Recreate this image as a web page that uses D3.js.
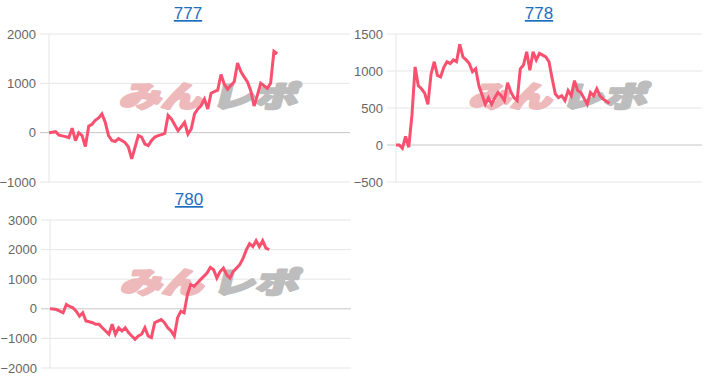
<!DOCTYPE html>
<html>
<head>
<meta charset="utf-8">
<script src="https://cdn.jsdelivr.net/npm/d3@7"></script>
<style>
  body { margin: 0; background: #fff; }
  svg { display: block; font-family: "Liberation Sans", Arial, sans-serif; }
</style>
</head>
<body>
<script>
// machine numbers (chart titles)
const titles = ['777', '778', '780'];

// cumulative difference per sample
const values777 = [0, 10, 20, -50, -65, -80, -100, 90, -160, 0,
  -60, -280, 130, 170, 250, 300, 380, 210, -60, -160,
  -180, -120, -160, -200, -290, -530, -300, -60, -90, -230,
  -260, -160, -90, -60, -40, -15, 350, 280, 160, 40,
  120, 210, -30, 75, 380, 480, 550, 680, 480, 800,
  830, 860, 1180, 980, 880, 960, 1030, 1410, 1240, 1130,
  1030, 850, 540, 760, 1000, 950, 900, 1000, 1650, 1600];

const values778 = [0, 0, -45, 115, -30, 400, 1055, 800, 760, 700,
  550, 960, 1125, 940, 920, 1050, 1125, 1100, 1150, 1125,
  1360, 1190, 1150, 1100, 990, 1030, 800, 680, 550, 640,
  550, 640, 710, 665, 600, 840, 720, 640, 600, 1030,
  1080, 1260, 1010, 1260, 1150, 1240, 1215, 1190, 1125, 895,
  690, 640, 665, 600, 735, 665, 870, 735, 710, 630,
  550, 710, 665, 760, 665, 620, 590, 565];

const values780 = [0, -10, -25, -80, -135, 145, 80, 35, -80, -250,
  -135, -415, -440, -470, -525, -525, -640, -750, -860, -525,
  -860, -640, -750, -640, -805, -920, -1030, -920, -860, -640,
  -920, -975, -470, -415, -360, -470, -640, -750, -920, -300,
  -80, -135, 480, 815, 760, 870, 985, 1095, 1210, 1400,
  1320, 1040, 1260, 1375, 1150, 1040, 1260, 1375, 1490, 1700,
  1990, 2200, 2100, 2300, 2100, 2300, 2050, 2000];

// y tick labels
const ticks777 = [-1000, 0, 1000, 2000];
const ticks778 = [-500, 0, 500, 1000, 1500];
const ticks780 = [-2000, -1000, 0, 1000, 2000, 3000];

const width = 709;
const height = 380;
const lineColor = '#f9506f';

const svg = d3.select('body').append('svg')
  .attr('width', width)
  .attr('height', height);

const charts = [
  { title: titles[0], values: values777, ticks: ticks777, xMax: 91,
    left: 49, right: 350, top: 34, bottom: 182, titleX: 188, titleY: 19 },
  { title: titles[1], values: values778, ticks: ticks778, xMax: 96,
    left: 396, right: 702, top: 34, bottom: 182, titleX: 539, titleY: 19 },
  { title: titles[2], values: values780, ticks: ticks780, xMax: 92,
    left: 50, right: 351, top: 220, bottom: 368, titleX: 189, titleY: 205 },
];

charts.forEach(drawChart);

function drawChart(c) {
  const x = d3.scaleLinear()
    .domain([0, c.xMax])
    .range([c.left, c.right]);
  const y = d3.scaleLinear()
    .domain(d3.extent(c.ticks))
    .range([c.bottom, c.top]);

  const g = svg.append('g');

  // title (rendered as a link)
  g.append('text')
    .attr('x', c.titleX)
    .attr('y', c.titleY)
    .attr('text-anchor', 'middle')
    .attr('font-size', 17)
    .attr('fill', '#1d6fbe')
    .style('text-decoration', 'underline')
    .text(c.title);

  // horizontal grid lines
  g.selectAll('line.grid')
    .data(c.ticks)
    .join('line')
    .attr('class', 'grid')
    .attr('x1', c.left - 9)
    .attr('x2', c.right)
    .attr('y1', d => y(d))
    .attr('y2', d => y(d))
    .attr('stroke', d => d === 0 ? '#c6c6c6' : '#e6e6e6')
    .attr('stroke-width', 1);

  // y axis line
  g.append('line')
    .attr('x1', c.left)
    .attr('x2', c.left)
    .attr('y1', c.top)
    .attr('y2', c.bottom + 1)
    .attr('stroke', '#e6e6e6');

  // y labels
  const axis = g.append('g')
    .attr('transform', 'translate(' + c.left + ',0)')
    .call(d3.axisLeft(y).tickValues(c.ticks).tickSize(0).tickPadding(13).tickFormat(d3.format('d')));
  axis.select('.domain').remove();
  axis.selectAll('text')
    .attr('font-size', 13)
    .attr('font-family', '"Liberation Sans", Arial, sans-serif')
    .attr('fill', '#666');

  // watermark
  const cx = (c.left + c.right) / 2 + 7.5;
  const cy = (c.top + c.bottom) / 2 - 10.5;
  const wm = g.append('g')
    .attr('transform', 'translate(' + cx + ',' + (cy + 9) + ') skewX(-14)')
    .attr('font-family', '"Noto Sans CJK JP", sans-serif')
    .attr('font-weight', 900)
    .attr('font-size', 29)
    .attr('stroke-width', 2.5)
    .attr('stroke-linejoin', 'round');
  wm.append('text')
    .attr('x', -88)
    .attr('textLength', 83)
    .attr('lengthAdjust', 'spacingAndGlyphs')
    .attr('fill', '#eeb9bb')
    .attr('stroke', '#eeb9bb')
    .text('みん');
  wm.append('text')
    .attr('x', 4)
    .attr('textLength', 86)
    .attr('lengthAdjust', 'spacingAndGlyphs')
    .attr('fill', '#bdbdbd')
    .attr('stroke', '#bdbdbd')
    .text('レポ');

  // data line
  const line = d3.line()
    .x((d, i) => x(i))
    .y(d => y(d));
  g.append('path')
    .datum(c.values)
    .attr('d', line)
    .attr('fill', 'none')
    .attr('stroke', lineColor)
    .attr('stroke-width', 3)
    .attr('stroke-linejoin', 'miter')
    .attr('stroke-miterlimit', 3);
}
</script>
</body>
</html>
